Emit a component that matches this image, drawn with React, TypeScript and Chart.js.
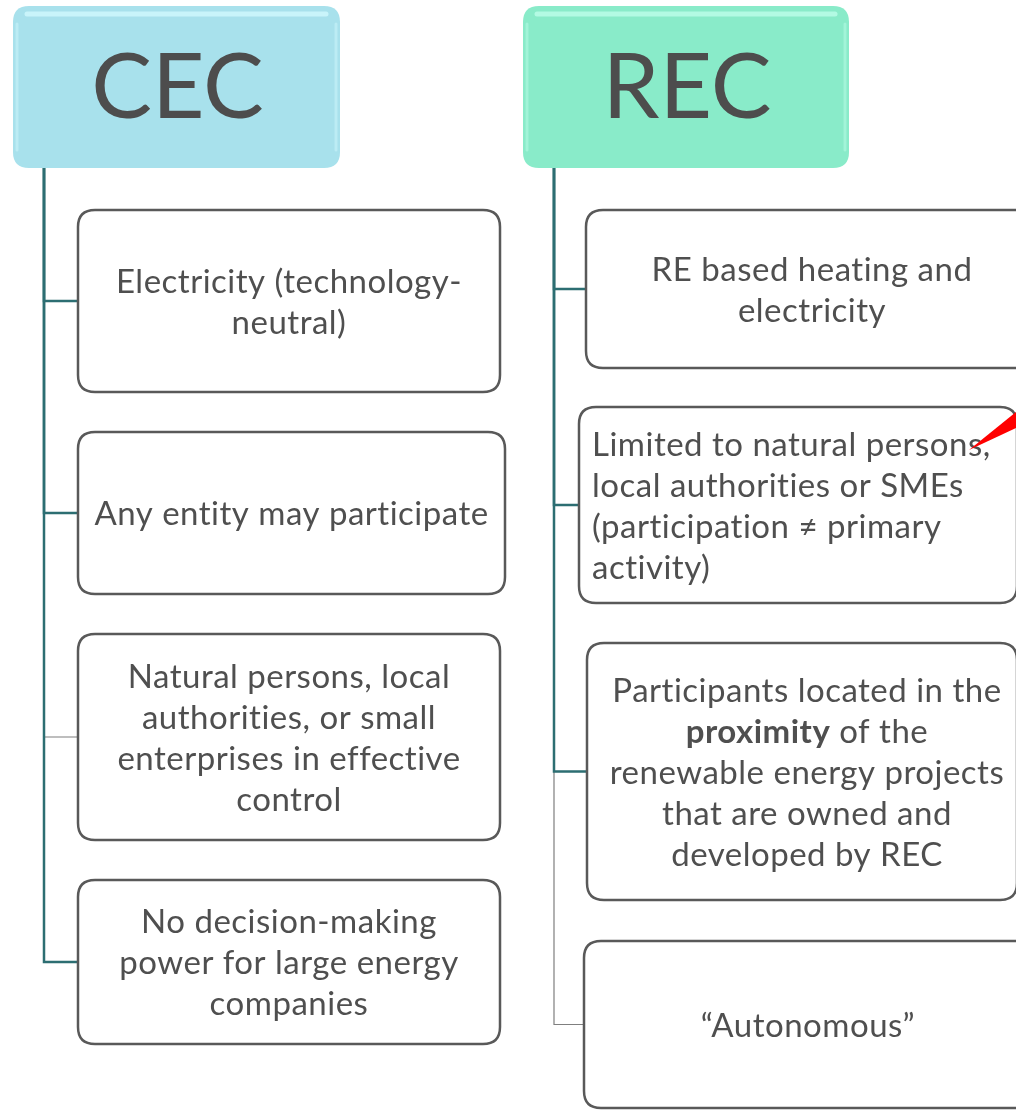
import React, { useEffect, useRef } from "react";
import { Chart, registerables } from "chart.js";

Chart.register(...registerables);

// ---------- content ----------
const categories = ["CEC", "REC"];

const cecItems: string[][] = [
  ["Electricity (technology-", "neutral)"],
  ["Any entity may participate"],
  ["Natural persons, local", "authorities, or small", "enterprises in effective", "control"],
  ["No decision-making", "power for large energy", "companies"],
];

const recItems: string[][] = [
  ["RE based heating and", "electricity"],
  ["Limited to natural persons,", "local authorities or SMEs", "(participation \u2260 primary", "activity)"],
  ["Participants located in the", "**proximity** of the", "renewable energy projects", "that are owned and", "developed by REC"],
  ["\u201CAutonomous\u201D"],
];

// ---------- layout (canvas units) ----------
const W = 1016;
const H = 1110;
const FONT = "Lato, 'Open Sans', sans-serif";
const BODY_SIZE = 33;
const HEAD_SIZE = 91;
const LINE_H = 41;
const TEXT_COLOR = "#4F4F4F";
const TEAL = "#2C6E72";
const GREY = "#7F7F7F";

const HEADERS = [
  { x0: 13, y0: 6, x1: 340, y1: 168, fill: "#A8E1EC", hi: "#C9F4FA" },
  { x0: 523, y0: 6, x1: 849, y1: 168, fill: "#89EBC9", hi: "#B3FAE3" },
];
const TRUNK_X = [44, 554];
const TRUNK_TOP = 168;
const BOXES = [
  [
    [78, 210, 500, 392],
    [78, 432, 505, 594],
    [78, 634, 500, 840],
    [78, 880, 500, 1044],
  ],
  [
    [586, 210, 1038, 368],
    [579, 407, 1017, 603],
    [587, 643, 1017, 900],
    [584, 941, 1032, 1108],
  ],
];
const TEXT_DX = [
  [0, 0, 0, 0],
  [0, 0, 5, 0],
];
const BRANCH_STYLE = [
  ["teal", "teal", "grey", "teal"],
  ["teal", "teal", "teal", "grey"],
];
const ALIGN = [
  ["center", "center", "center", "center"],
  ["center", "left", "center", "center"],
];

const groups = [cecItems, recItems];

function rr(ctx: CanvasRenderingContext2D, x0: number, y0: number, x1: number, y1: number, r: number) {
  ctx.beginPath();
  ctx.moveTo(x0 + r, y0);
  ctx.lineTo(x1 - r, y0);
  ctx.quadraticCurveTo(x1, y0, x1, y0 + r);
  ctx.lineTo(x1, y1 - r);
  ctx.quadraticCurveTo(x1, y1, x1 - r, y1);
  ctx.lineTo(x0 + r, y1);
  ctx.quadraticCurveTo(x0, y1, x0, y1 - r);
  ctx.lineTo(x0, y0 + r);
  ctx.quadraticCurveTo(x0, y0, x0 + r, y0);
  ctx.closePath();
}

function parseLine(line: string): { t: string; b: boolean }[] {
  return line
    .split("**")
    .map((t, i) => ({ t, b: i % 2 === 1 }))
    .filter((s) => s.t.length > 0);
}

const diagramPlugin = {
  id: "diagram",
  beforeDatasetsDraw(chart: any) {
    const { ctx, scales } = chart;
    const px = (v: number) => scales.x.getPixelForValue(v);
    const py = (v: number) => scales.y.getPixelForValue(v);
    ctx.save();
    HEADERS.forEach((h, i) => {
      const x0 = px(h.x0), x1 = px(h.x1), y0 = py(h.y0), y1 = py(h.y1);
      rr(ctx, x0, y0, x1, y1, 16);
      ctx.fillStyle = h.fill;
      ctx.fill();
      // glossy highlights
      ctx.strokeStyle = h.hi;
      ctx.lineWidth = 5;
      ctx.lineCap = "round";
      ctx.beginPath();
      ctx.moveTo(x0 + 14, y0 + 8);
      ctx.lineTo(x1 - 14, y0 + 8);
      ctx.stroke();
      ctx.globalAlpha = 0.6;
      ctx.lineWidth = 3;
      ctx.beginPath();
      ctx.moveTo(x0 + 4, y0 + 18);
      ctx.lineTo(x0 + 4, y1 - 18);
      ctx.stroke();
      ctx.beginPath();
      ctx.moveTo(x1 - 4, y0 + 18);
      ctx.lineTo(x1 - 4, y1 - 18);
      ctx.stroke();
      ctx.globalAlpha = 1;
      ctx.fillStyle = "#4D4D4D";
      ctx.font = `${HEAD_SIZE}px ${FONT}`;
      ctx.textAlign = "center";
      ctx.textBaseline = "alphabetic";
      ctx.fillText(categories[i], (x0 + x1) / 2 + 1, (y0 + y1) / 2 + 31);
    });
    ctx.restore();
  },
  afterDatasetsDraw(chart: any) {
    const { ctx, scales } = chart;
    const px = (v: number) => scales.x.getPixelForValue(v);
    const py = (v: number) => scales.y.getPixelForValue(v);
    ctx.save();
    groups.forEach((items, g) => {
      items.forEach((lines, k) => {
        const [bx0, by0, bx1, by1] = BOXES[g][k];
        const x0 = px(bx0), x1 = px(bx1), y0 = py(by0), y1 = py(by1);
        rr(ctx, x0, y0, x1, y1, 17);
        ctx.fillStyle = "#FFFFFF";
        ctx.fill();
        ctx.strokeStyle = "#595959";
        ctx.lineWidth = 2.5;
        ctx.stroke();
        const cy = (y0 + y1) / 2;
        const n = lines.length;
        const cx = (x0 + x1) / 2 + TEXT_DX[g][k];
        ctx.fillStyle = TEXT_COLOR;
        ctx.textBaseline = "alphabetic";
        (ctx as any).letterSpacing = "0.5px";
        lines.forEach((line, j) => {
          const base = cy + (j - (n - 1) / 2) * LINE_H + 12;
          const segs = parseLine(line);
          const widths = segs.map((s) => {
            ctx.font = `${s.b ? "bold " : ""}${BODY_SIZE}px ${FONT}`;
            return ctx.measureText(s.t).width;
          });
          const total = widths.reduce((a, b) => a + b, 0);
          let x = ALIGN[g][k] === "left" ? x0 + 13 : cx - total / 2;
          ctx.textAlign = "left";
          segs.forEach((s, si) => {
            ctx.font = `${s.b ? "bold " : ""}${BODY_SIZE}px ${FONT}`;
            ctx.fillText(s.t, x, base);
            x += widths[si];
          });
        });
        (ctx as any).letterSpacing = "0px";
      });
    });
    // red pointer arrow
    ctx.fillStyle = "#FF0000";
    ctx.beginPath();
    ctx.moveTo(px(969), py(450));
    ctx.lineTo(px(1016), py(412));
    ctx.lineTo(px(1016), py(428));
    ctx.closePath();
    ctx.fill();
    ctx.restore();
  },
};

function buildDatasets() {
  const ds: any[] = [];
  groups.forEach((items, g) => {
    items.forEach((_, k) => {
      const [bx0, by0, , by1] = BOXES[g][k];
      const yb = (by0 + by1) / 2;
      const teal = BRANCH_STYLE[g][k] === "teal";
      ds.push({
        label: `${categories[g]}-${k}`,
        data: [
          { x: TRUNK_X[g], y: TRUNK_TOP },
          { x: TRUNK_X[g], y: yb },
          { x: bx0, y: yb },
        ],
        showLine: true,
        borderColor: teal ? TEAL : GREY,
        borderWidth: teal ? 2.5 : 1.2,
        pointRadius: 0,
        tension: 0,
        fill: false,
        order: teal ? 0 : 1,
      });
    });
  });
  return ds;
}

export default function App() {
  const ref = useRef<HTMLCanvasElement | null>(null);
  useEffect(() => {
    if (!ref.current) return;
    const chart = new Chart(ref.current, {
      type: "scatter",
      data: { datasets: buildDatasets() },
      options: {
        animation: false,
        responsive: false,
        devicePixelRatio: 1,
        layout: { padding: 0 },
        events: [],
        scales: {
          x: { type: "linear", min: 0, max: W, display: false },
          y: { type: "linear", min: 0, max: H, reverse: true, display: false },
        },
        plugins: { legend: { display: false }, tooltip: { enabled: false } },
      },
      plugins: [diagramPlugin],
    });
    return () => chart.destroy();
  }, []);
  return (
    <div style={{ position: "absolute", left: 0, top: 0, width: W, height: H, background: "#FFFFFF" }}>
      <canvas ref={ref} width={W} height={H} style={{ width: W, height: H, display: "block" }} />
    </div>
  );
}
